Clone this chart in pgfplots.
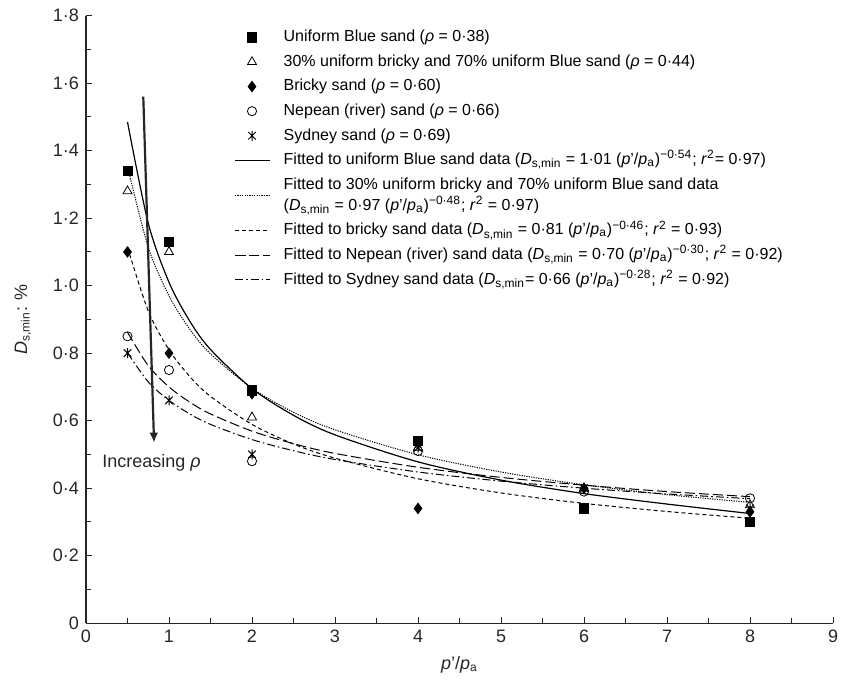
\documentclass[border=0pt]{standalone}
\usepackage{fontspec}
\setmainfont{Liberation Sans}
\usepackage{pgfplots}
\pgfplotsset{compat=1.18}
\usetikzlibrary{arrows.meta}

% X with a vertical bar, as used for the Sydney sand points
\pgfdeclareplotmark{xbar}{%
  \pgfpathmoveto{\pgfqpoint{0pt}{\pgfplotmarksize}}%
  \pgfpathlineto{\pgfqpoint{0pt}{-\pgfplotmarksize}}%
  \pgfpathmoveto{\pgfqpoint{-0.75\pgfplotmarksize}{0.75\pgfplotmarksize}}%
  \pgfpathlineto{\pgfqpoint{0.75\pgfplotmarksize}{-0.75\pgfplotmarksize}}%
  \pgfpathmoveto{\pgfqpoint{-0.75\pgfplotmarksize}{-0.75\pgfplotmarksize}}%
  \pgfpathlineto{\pgfqpoint{0.75\pgfplotmarksize}{0.75\pgfplotmarksize}}%
  \pgfusepathqstroke}

\newcommand{\Dsmin}{\textit{D}\smash{\textsubscript{s,min}}}
\newcommand{\ppa}{(\textit{p}'/\textit{p}\smash{\textsubscript{a}})}
\newcommand{\ex}[1]{\smash{\textsuperscript{#1}}}

\begin{document}
\begin{tikzpicture}
\begin{axis}[
    scale only axis,
    width=373.5pt,
    height=303.8pt,
    xmin=0, xmax=9,
    ymin=0, ymax=1.8,
    axis lines=left,
    axis line style={-, black!85, line width=0.6pt},
    tick align=inside,
    major tick length=3pt,
    minor tick length=2.5pt,
    tick style={black!85, line width=0.5pt},
    minor tick num=1,
    xtick={0,1,...,9},
    ytick={0,0.2,...,1.8},
    yticklabels={0,0·2,0·4,0·6,0·8,1·0,1·2,1·4,1·6,1·8},
    /pgf/number format/assume math mode=true,
    tick label style={font=\fontsize{9}{11}\selectfont, black!85},
    xlabel={\textit{p}'/\textit{p}\textsubscript{a}},
    ylabel={\textit{D}\textsubscript{s,min}: \%},
    ylabel shift=4pt,
    label style={font=\fontsize{9}{11}\selectfont, black!85},
    legend cell align=left,
    legend style={
        at={(rel axis cs:0.19,0.99)}, anchor=north west,
        draw=none, fill=none,
        font=\fontsize{8}{10.5}\selectfont,
        cells={align=left},
        row sep=1pt,
        column sep=5pt,
    },
]

% data points
\addplot[only marks, mark=square*, mark size=2.3pt, black] coordinates {
    (0.5,1.34) (1,1.13) (2,0.69) (4,0.54) (6,0.34) (8,0.30)
};
\addlegendentry{Uniform Blue sand (\textit{ρ} = 0·38)}

\addplot[only marks, mark=triangle, mark size=2.6pt, black, mark options={fill=white}] coordinates {
    (0.5,1.28) (1,1.10) (2,0.61) (4,0.52) (6,0.40) (8,0.35)
};
\addlegendentry{30\% uniform bricky and 70\% uniform Blue sand (\textit{ρ} = 0·44)}

\addplot[only marks, mark=diamond*, mark size=2.6pt, black] coordinates {
    (0.5,1.10) (1,0.80) (2,0.68) (4,0.34) (6,0.40) (8,0.33)
};
\addlegendentry{Bricky sand (\textit{ρ} = 0·60)}

\addplot[only marks, mark=o, mark size=2.3pt, black, mark options={fill=white}] coordinates {
    (0.5,0.85) (1,0.75) (2,0.48) (4,0.51) (6,0.39) (8,0.37)
};
\addlegendentry{Nepean (river) sand (\textit{ρ} = 0·66)}

\addplot[only marks, mark=xbar, mark size=2.5pt, black, line width=0.5pt] coordinates {
    (0.5,0.80) (1,0.66) (2,0.50) (4,0.52) (6,0.40) (8,0.34)
};
\addlegendentry{Sydney sand (\textit{ρ} = 0·69)}

% fitted curves
\addplot[black, line width=0.6pt, smooth] coordinates {
    (0.5,1.485) (0.75,1.185) (1,1.010) (1.25,0.895) (1.5,0.811) (2,0.695)
    (2.5,0.616) (3,0.558) (4,0.478) (5,0.424) (6,0.384) (7,0.353) (8,0.325)
};
\addlegendentry{Fitted to uniform Blue sand data (\Dsmin{} = 1·01 \ppa\ex{−0·54}; \textit{r}\ex{2}= 0·97)}

\addplot[black, line width=0.5pt, smooth, dash pattern=on 0.6pt off 0.6pt] coordinates {
    (0.5,1.353) (0.75,1.114) (1,0.970) (1.25,0.871) (1.5,0.798) (2,0.696)
    (2.5,0.625) (3,0.573) (4,0.499) (5,0.448) (6,0.410) (7,0.381) (8,0.358)
};
\addlegendentry{Fitted to 30\% uniform bricky and 70\% uniform Blue sand data\\(\Dsmin{} = 0·97 \ppa\ex{−0·48}; \textit{r}\ex{2} = 0·97)}

\addplot[black, line width=0.5pt, smooth, dash pattern=on 2pt off 1.5pt] coordinates {
    (0.5,1.114) (0.75,0.925) (1,0.810) (1.25,0.731) (1.5,0.672) (2,0.589)
    (2.5,0.531) (3,0.489) (4,0.428) (5,0.386) (6,0.355) (7,0.331) (8,0.311)
};
\addlegendentry{Fitted to bricky sand data (\Dsmin{} = 0·81 \ppa\ex{−0·46}; \textit{r}\ex{2} = 0·93)}

\addplot[black, line width=0.5pt, smooth, dash pattern=on 5pt off 2pt] coordinates {
    (0.5,0.862) (0.75,0.763) (1,0.700) (1.25,0.655) (1.5,0.620) (2,0.569)
    (2.5,0.532) (3,0.503) (4,0.462) (5,0.432) (6,0.409) (7,0.390) (8,0.375)
};
\addlegendentry{Fitted to Nepean (river) sand data (\Dsmin{} = 0·70 \ppa\ex{−0·30}; \textit{r}\ex{2} = 0·92)}

\addplot[black, line width=0.5pt, smooth, dash pattern=on 4pt off 1.5pt on 0.8pt off 1.5pt] coordinates {
    (0.5,0.801) (0.75,0.715) (1,0.660) (1.25,0.620) (1.5,0.589) (2,0.544)
    (2.5,0.511) (3,0.485) (4,0.448) (5,0.421) (6,0.400) (7,0.383) (8,0.369)
};
\addlegendentry{Fitted to Sydney sand data (\Dsmin{}= 0·66 \ppa\ex{−0·28}; \textit{r}\ex{2} = 0·92)}

% increasing density arrow
\draw[-{Latex[length=5pt,width=4.5pt]}, line width=1.1pt, black!85]
    (axis cs:0.69,1.56) -- (axis cs:0.82,0.535);
\node[font=\fontsize{9}{11}\selectfont, black!85] at (axis cs:0.79,0.475) {Increasing \textit{ρ}};

\end{axis}
\pgfresetboundingbox
\path (current axis.south west) ++(-43pt,-29.5pt) coordinate (bl);
\path (current axis.north east) ++(4pt,7.8pt) coordinate (tr);
\path (bl) rectangle (tr);
\end{tikzpicture}
\end{document}
